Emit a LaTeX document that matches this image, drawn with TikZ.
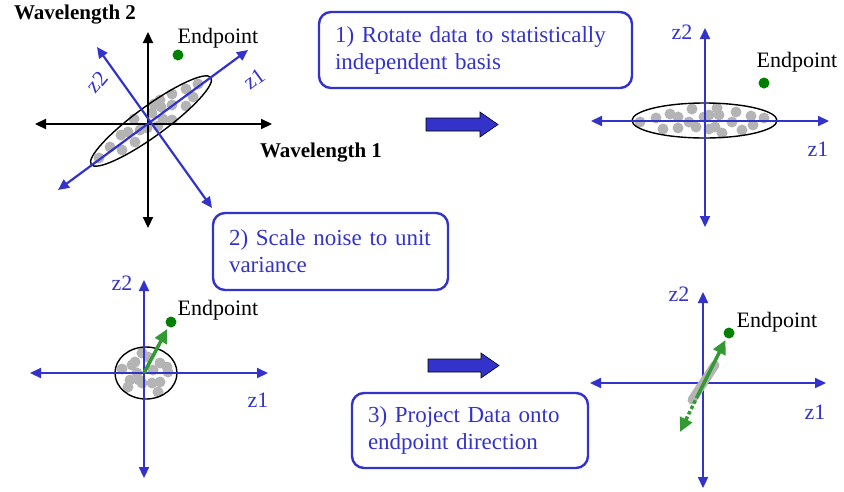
\documentclass[tikz,border=0pt]{standalone}
\usepackage{fontspec}
\setmainfont{Liberation Serif}
\usetikzlibrary{arrows.meta}
\definecolor{axblue}{HTML}{3333CC}
\definecolor{dotgray}{HTML}{B4B4B4}
\definecolor{epgreen}{HTML}{008000}
\definecolor{vecgreen}{HTML}{339933}
\tikzset{
  axisline/.style={line width=2.2pt, {Triangle[length=11pt,width=10pt]}-{Triangle[length=11pt,width=10pt]}},
  lbl/.style={font=\fontsize{22}{26}\selectfont, inner sep=0pt},
  wlbl/.style={font=\bfseries\fontsize{21}{26}\selectfont, inner sep=0pt},
  zlbl/.style={font=\fontsize{22}{26}\selectfont, inner sep=0pt, text=axblue},
  enddot/.style={circle, fill=epgreen, inner sep=0pt, minimum size=11pt},
  stepbox/.style={draw=axblue, line width=2.4pt, rounded corners=12pt, text=axblue,
    align=left, inner xsep=16pt, font=\fontsize{23}{27}\selectfont},
  bigarrow/.style={fill=axblue, draw=black, line width=0.6pt},
  vec/.style={vecgreen, line width=3.5pt, -{Triangle[length=14pt,width=13pt]}},
}
\begin{document}
\begin{tikzpicture}[x=1pt,y=-1pt]
    \useasboundingbox (0,0) rectangle (844,491);

    % panel 1: raw data in wavelength space
    \coordinate (o1) at (148,124);
    \coordinate (w1l) at (35,124);   \coordinate (w1r) at (272,124);
    \coordinate (w2t) at (148,32);   \coordinate (w2b) at (148,228);
    \coordinate (z1a) at (58,190);   \coordinate (z1b) at (248,50);
    \coordinate (z2a) at (97,47);    \coordinate (z2b) at (212,208);
    \foreach \p in {(198,84),(186,89),(193,97),(172,94),(186,106),(172,105),(154,104),
                    (161,107),(160,100),(152,113),(172,120),(163,119),(134,119),(140,130),
                    (147,128),(158,126),(128,132),(121,135),(135,142),(122,150),(110,147),(99,158)}
        \fill[dotgray] \p circle (5.5pt);
    \draw[line width=1.4pt, rotate around={36:(151,121)}] (151,121) ellipse [x radius=74, y radius=15];
    \draw[axisline] (w1l) -- (w1r);
    \draw[axisline] (w2t) -- (w2b);
    \draw[axisline, axblue] (z1a) -- (z1b);
    \draw[axisline, axblue] (z2a) -- (z2b);
    \node[zlbl, rotate=36] (z1p1) at (254,79) {z1};
    \node[zlbl, rotate=50] (z2p1) at (97,82) {z2};
    \node[wlbl] (wl2) at (75,15) {Wavelength 2};
    \node[wlbl] (wl1) at (321,153) {Wavelength 1};
    \node[enddot] (ep1) at (178,55) {};
    \node[lbl] (epl1) at (218,38) {Endpoint};

    % panel 2: rotated basis
    \coordinate (o2) at (705,121);
    \coordinate (a2l) at (591,121);  \coordinate (a2r) at (829,121);
    \coordinate (a2t) at (705,28);   \coordinate (a2b) at (705,227);
    \foreach \p in {(640,122),(656,118),(670,114),(678,117),(663,129),(678,128),(692,109),
                    (689,122),(696,127),(704,117),(709,115),(717,108),(719,115),(709,129),
                    (715,127),(722,133),(732,122),(736,112),(742,130),(751,116),(753,125),(764,118)}
        \fill[dotgray] \p circle (5.5pt);
    \draw[line width=1.4pt] (704.5,120.5) ellipse [x radius=72.5, y radius=17.5];
    \draw[axisline, axblue] (a2l) -- (a2r);
    \draw[axisline, axblue] (a2t) -- (a2b);
    \node[zlbl] (z2p2) at (682,32) {z2};
    \node[zlbl] (z1p2) at (818,149) {z1};
    \node[enddot] (ep2) at (764,83) {};
    \node[lbl] (epl2) at (797,62) {Endpoint};

    % panel 3: unit variance
    \coordinate (o3) at (144,373);
    \coordinate (a3l) at (30,373);   \coordinate (a3r) at (268,373);
    \coordinate (a3t) at (144,280);  \coordinate (a3b) at (144,478);
    \foreach \p in {(142,353),(148,357),(135,362),(132,365),(122,369),(160,363),(167,367),
                    (168,372),(153,370),(137,373),(130,380),(128,387),(139,380),(142,383),
                    (152,383),(160,382),(158,392)}
        \fill[dotgray] \p circle (5.5pt);
    \draw[line width=1.4pt] (146,373) ellipse [x radius=31, y radius=26];
    \draw[axisline, axblue] (a3l) -- (a3r);
    \draw[axisline, axblue] (a3t) -- (a3b);
    \node[zlbl] (z2p3) at (122,283) {z2};
    \node[zlbl] (z1p3) at (258,400) {z1};
    \node[enddot] (ep3) at (171,322) {};
    \draw[vec, shorten >=2pt] (o3) -- (ep3);
    \node[lbl] (epl3) at (218,310) {Endpoint};

    % panel 4: projection onto endpoint direction
    \coordinate (o4) at (703,383);
    \coordinate (a4l) at (590,383);  \coordinate (a4r) at (826,383);
    \coordinate (a4t) at (703,292);  \coordinate (a4b) at (703,488);
    \coordinate (pr0) at (698,395);
    \coordinate (prn) at (680,432);
    \draw[axisline, axblue] (a4l) -- (a4r);
    \draw[axisline, axblue] (a4t) -- (a4b);
    \draw[dotgray, line width=9pt, line cap=round] (692,400) -- (715,365);
    \node[enddot] (ep4) at (729,333) {};
    \draw[vec, shorten >=2pt] (pr0) -- (ep4);
    \draw[vec, dash pattern=on 3.5pt off 2.5pt] (pr0) -- (prn);
    \node[zlbl] (z2p4) at (679,294) {z2};
    \node[zlbl] (z1p4) at (815,412) {z1};
    \node[lbl] (epl4) at (777,322) {Endpoint};

    % step boxes
    \node[stepbox, text width=281pt, minimum height=76pt] (s1) at (475.5,50) {1) Rotate data to statistically\\independent basis};
    \node[stepbox, text width=203pt, minimum height=77pt] (s2) at (330.5,251.5) {2) Scale noise to unit\\variance};
    \node[stepbox, text width=204pt, minimum height=75pt] (s3) at (470,430.5) {3) Project Data onto\\endpoint direction};

    % transition arrows
    \draw[bigarrow] (426,118) -- (480,118) -- (480,112) -- (498,124.5) -- (480,137) -- (480,131) -- (426,131) -- cycle;
    \draw[bigarrow] (428,359) -- (481,359) -- (481,353) -- (499,365.5) -- (481,378) -- (481,372) -- (428,372) -- cycle;

\end{tikzpicture}
\end{document}
